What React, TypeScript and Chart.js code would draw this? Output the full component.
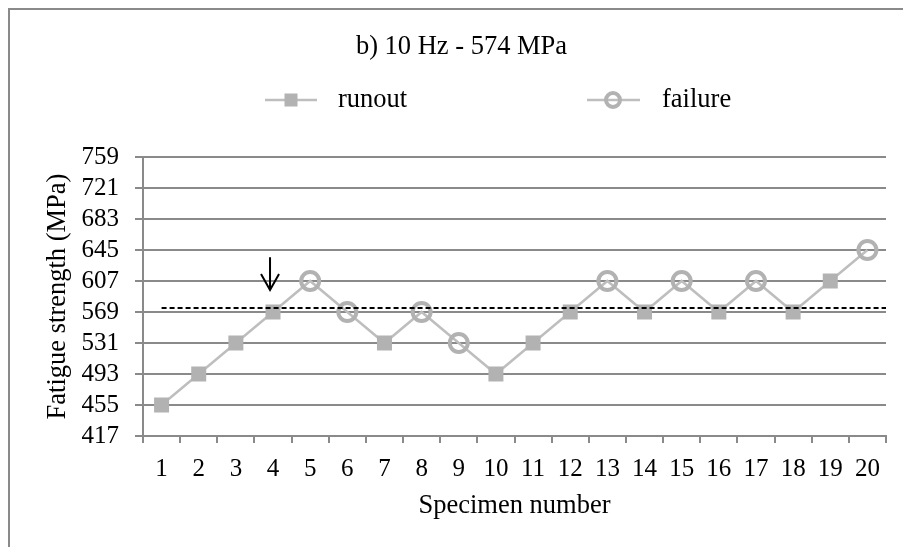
import React, { useEffect, useRef } from 'react';
import { Chart, registerables } from 'chart.js';

Chart.register(...registerables);

// ---- data ----
const CATEGORIES = ['1', '2', '3', '4', '5', '6', '7', '8', '9', '10', '11', '12', '13', '14', '15', '16', '17', '18', '19', '20'];
const RUNOUT = [455, 493, 531, 569, null, null, 531, null, null, 493, 531, 569, null, 569, null, 569, null, 569, 607, null];
const FAILURE = [null, null, null, null, 607, 569, null, 569, 531, null, null, null, 607, null, 607, null, 607, null, null, 645];
const Y_TICKS = [417, 455, 493, 531, 569, 607, 645, 683, 721, 759];
const MEAN_LEVEL = 574;
const ARROW_SPECIMEN = '4';
const ARROW_FROM = 636;
const ARROW_TO = 596;
const TITLE = 'b) 10 Hz - 574 MPa';
const X_TITLE = 'Specimen number';
const Y_TITLE = 'Fatigue strength (MPa)';
const SERIES_NAMES = ['runout', 'failure'];

const FONT = '"Liberation Serif", "Times New Roman", serif';
const TEXT_SIZE = 26.5;
const TICK_SIZE = 25;
const GRID = '#8A8A8A';
const LINE = '#BEBEBE';
const MARK = '#B2B2B2';

const SEQUENCE = CATEGORIES.map((_, i) => (RUNOUT[i] != null ? RUNOUT[i] : FAILURE[i]));

const overlay = {
  id: 'overlay',
  afterDatasetsDraw(chart: any) {
    const { ctx, chartArea, scales } = chart;
    const x = scales.x;
    const y = scales.y;
    ctx.save();
    // mean level dashed line
    const yy = y.getPixelForValue(MEAN_LEVEL);
    ctx.strokeStyle = '#000';
    ctx.lineWidth = 2;
    ctx.setLineDash([5, 3]);
    ctx.beginPath();
    ctx.moveTo(x.getPixelForValue(0), yy);
    ctx.lineTo(chartArea.right, yy);
    ctx.stroke();
    ctx.setLineDash([]);
    // arrow
    const ax = x.getPixelForValue(CATEGORIES.indexOf(ARROW_SPECIMEN)) - 3;
    const a1 = y.getPixelForValue(ARROW_FROM);
    const a2 = y.getPixelForValue(ARROW_TO);
    ctx.lineWidth = 2;
    ctx.beginPath();
    ctx.moveTo(ax, a1);
    ctx.lineTo(ax, a2);
    ctx.moveTo(ax - 9, a2 - 16);
    ctx.lineTo(ax, a2);
    ctx.lineTo(ax + 9, a2 - 16);
    ctx.stroke();
    ctx.restore();
  },
  afterDraw(chart: any) {
    const { ctx } = chart;
    ctx.save();
    ctx.fillStyle = '#000';
    ctx.textBaseline = 'middle';
    ctx.font = TEXT_SIZE + 'px ' + FONT;
    ctx.textAlign = 'center';
    ctx.fillText(TITLE, 451.5, 37);

    const ly = 90;
    // runout legend
    ctx.strokeStyle = LINE;
    ctx.lineWidth = 2.5;
    ctx.beginPath();
    ctx.moveTo(255, ly);
    ctx.lineTo(307, ly);
    ctx.stroke();
    ctx.fillStyle = MARK;
    ctx.fillRect(281 - 6.5, ly - 6.5, 13, 13);
    ctx.fillStyle = '#000';
    ctx.textAlign = 'left';
    ctx.fillText(SERIES_NAMES[0], 328, ly);

    // failure legend
    ctx.strokeStyle = LINE;
    ctx.lineWidth = 2.5;
    ctx.beginPath();
    ctx.moveTo(577, ly);
    ctx.lineTo(630, ly);
    ctx.stroke();
    ctx.strokeStyle = MARK;
    ctx.lineWidth = 4;
    ctx.beginPath();
    ctx.arc(603, ly, 7, 0, Math.PI * 2);
    ctx.stroke();
    ctx.fillStyle = '#000';
    ctx.fillText(SERIES_NAMES[1], 652, ly);
    ctx.restore();
  },
};

export default function App() {
  const ref = useRef<HTMLCanvasElement>(null);

  useEffect(() => {
    if (!ref.current) return;
    const chart = new Chart(ref.current, {
      type: 'line',
      data: {
        labels: CATEGORIES,
        datasets: [
          {
            label: 'sequence',
            data: SEQUENCE,
            borderColor: LINE,
            borderWidth: 2.5,
            pointRadius: 0,
            fill: false,
            order: 3,
          },
          {
            label: SERIES_NAMES[0],
            data: RUNOUT,
            showLine: false,
            pointStyle: 'rect',
            pointRadius: 10.6,
            pointBackgroundColor: MARK,
            pointBorderColor: MARK,
            pointBorderWidth: 0,
            order: 1,
          },
          {
            label: SERIES_NAMES[1],
            data: FAILURE,
            showLine: false,
            pointStyle: 'circle',
            pointRadius: 9,
            pointBackgroundColor: 'rgba(0,0,0,0)',
            pointBorderColor: MARK,
            pointBorderWidth: 4,
            order: 2,
          },
        ],
      } as any,
      options: {
        responsive: false,
        animation: false,
        devicePixelRatio: 1,
        layout: { padding: { top: 147, right: 17, left: 0, bottom: 0 } },
        plugins: {
          legend: { display: false },
          title: { display: false },
          tooltip: { enabled: false },
        },
        scales: {
          x: {
            type: 'category',
            offset: true,
            grid: {
              display: true,
              offset: true,
              drawOnChartArea: false,
              drawTicks: true,
              tickLength: 7,
              color: GRID,
              lineWidth: 2,
            },
            border: { display: true, color: GRID, width: 2 },
            ticks: {
              color: '#000',
              font: { family: FONT, size: TICK_SIZE },
              padding: 11,
              maxRotation: 0,
              minRotation: 0,
              autoSkip: false,
            },
            title: {
              display: true,
              text: X_TITLE,
              color: '#000',
              font: { family: FONT, size: TEXT_SIZE },
              padding: { top: 0, bottom: 25 },
            },
            afterFit(scale: any) {
              scale.height = 111;
            },
          },
          y: {
            type: 'linear',
            min: Y_TICKS[0],
            max: Y_TICKS[Y_TICKS.length - 1],
            afterBuildTicks(scale: any) {
              scale.ticks = Y_TICKS.map((v) => ({ value: v }));
            },
            grid: {
              display: true,
              drawTicks: true,
              tickLength: 8,
              color: GRID,
              lineWidth: 2,
            },
            border: { display: true, color: GRID, width: 2 },
            ticks: {
              color: '#000',
              font: { family: FONT, size: TICK_SIZE },
              padding: 16,
              autoSkip: false,
            },
            title: {
              display: true,
              text: Y_TITLE,
              color: '#000',
              font: { family: FONT, size: TEXT_SIZE },
              padding: { top: 32, bottom: 0 },
            },
            afterFit(scale: any) {
              scale.width = 133;
            },
          },
        },
      } as any,
      plugins: [overlay],
    });
    return () => chart.destroy();
  }, []);

  return (
    <div
      style={{
        position: 'absolute',
        left: 8,
        top: 8,
        borderLeft: '2px solid #8A8A8A',
        borderTop: '2px solid #8A8A8A',
        width: 893,
        height: 537,
        background: '#fff',
      }}
    >
      <canvas ref={ref} width={893} height={537} style={{ display: 'block' }} />
    </div>
  );
}
